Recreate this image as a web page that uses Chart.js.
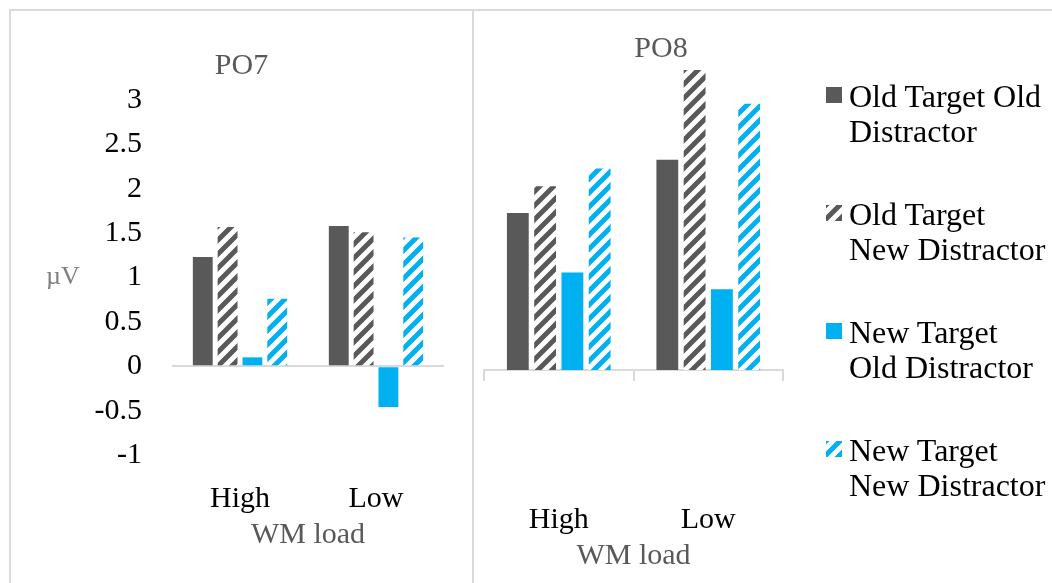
<!DOCTYPE html>
<html><head><meta charset="utf-8">
<script src="https://cdn.jsdelivr.net/npm/chart.js@4.4.1/dist/chart.umd.min.js"></script>
<style>
html,body{margin:0;padding:0;background:#fff;width:1052px;height:583px;overflow:hidden;position:relative;font-family:"Liberation Serif","Times New Roman",serif;}
.rule{position:absolute;background:#d9d9d9;}
#c1{position:absolute;left:10px;top:0;}
#c2{position:absolute;left:474px;top:0;}
#legend{position:absolute;left:826px;top:79px;}
.item{display:flex;align-items:flex-start;margin-bottom:48px;}
.item canvas{margin-top:8px;margin-right:7px;flex:none;}
.item .txt{font-size:32px;line-height:35px;color:#000;white-space:nowrap;}
</style></head><body>
<div class="rule" style="left:9px;top:9px;width:1043px;height:2px"></div>
<div class="rule" style="left:9px;top:9px;width:2px;height:574px"></div>
<div class="rule" style="left:472px;top:9px;width:2px;height:574px"></div>
<canvas id="c1" width="463" height="583"></canvas>
<canvas id="c2" width="374" height="600"></canvas>
<div id="legend"></div>
<script>
// ---- data ----
const categories = ["High", "Low"];
const seriesNames = ["Old Target Old Distractor", "Old Target New Distractor", "New Target Old Distractor", "New Target New Distractor"];
const legendLines = [["Old Target Old", "Distractor"], ["Old Target", "New Distractor"], ["New Target", "Old Distractor"], ["New Target", "New Distractor"]];
const panelTitles = ["PO7", "PO8"];
const xAxisTitle = "WM load";
const yAxisTitle = "\u00b5V";
const po7OldTargetOldDistractor = [1.23, 1.58];
const po7OldTargetNewDistractor = [1.57, 1.51];
const po7NewTargetOldDistractor = [0.10, -0.46];
const po7NewTargetNewDistractor = [0.76, 1.45];
const po8OldTargetOldDistractor = [1.77, 2.37];
const po8OldTargetNewDistractor = [2.07, 3.38];
const po8NewTargetOldDistractor = [1.10, 0.91];
const po8NewTargetNewDistractor = [2.27, 3.00];
const yTicksPO7 = [-1, -0.5, 0, 0.5, 1, 1.5, 2, 2.5, 3];
const yTickLabelsPO7 = ["-1", "-0.5", "0", "0.5", "1", "1.5", "2", "2.5", "3"];

// ---- styles ----
const F = "'Liberation Serif','Times New Roman',serif";
const DARK = "#595959";
const BLUE = "#00B0F0";
const AXIS = "#d9d9d9";
Chart.defaults.font.family = F;

function hatchTile(color) {
  const s = 14, c = document.createElement('canvas');
  c.width = s; c.height = s;
  const x = c.getContext('2d');
  x.fillStyle = '#fff'; x.fillRect(0, 0, s, s);
  x.strokeStyle = color; x.lineWidth = 5;
  x.beginPath();
  // lines x + y = k for k = 0, s, 2s (upward diagonal), extended past edges
  [0, s, 2 * s].forEach(k => { x.moveTo(k - s - 4, s + 4); x.lineTo(k + 4, -4); });
  x.stroke();
  return c;
}
function pattern(color, ctx) {
  const tmp = ctx || document.createElement('canvas').getContext('2d');
  return tmp.createPattern(hatchTile(color), 'repeat');
}
const fills = [DARK, pattern(DARK), BLUE, pattern(BLUE)];

const panelText = {
  id: 'panelText',
  afterDraw(chart, args, opts) {
    const ctx = chart.ctx;
    (opts.items || []).forEach(it => {
      ctx.save();
      ctx.font = it.size + "px " + F;
      ctx.fillStyle = it.color;
      ctx.textAlign = 'center';
      ctx.textBaseline = 'middle';
      const y = it.y === 'mid' ? (chart.chartArea.top + chart.chartArea.bottom) / 2 : it.y;
      ctx.fillText(it.text, it.x, y);
      ctx.restore();
    });
  }
};

function makeDatasets(arrs) {
  return arrs.map((d, i) => ({
    label: seriesNames[i], data: d, backgroundColor: fills[i], borderWidth: 0, xAxisID: 'x', yAxisID: 'y'
  }));
}
const xBase = {
  grid: { display: false }, border: { display: false },
  ticks: { color: '#000', font: { family: F, size: 30 }, padding: 18 },
  title: { display: true, text: xAxisTitle, color: DARK, font: { family: F, size: 30 }, padding: { top: 0, bottom: 12 } },
  afterFit(s) { s.height = 110; }
};

new Chart(document.getElementById('c1'), {
  type: 'bar',
  data: { labels: categories, datasets: makeDatasets([po7OldTargetOldDistractor, po7OldTargetNewDistractor, po7NewTargetOldDistractor, po7NewTargetNewDistractor]) },
  options: {
    responsive: false, animation: false,
    layout: { padding: { left: 0, right: 29, top: 100, bottom: 18 } },
    datasets: { bar: { categoryPercentage: 0.73, barPercentage: 0.8 } },
    plugins: {
      legend: { display: false }, tooltip: { enabled: false }, title: { display: false },
      panelText: { items: [
        { text: panelTitles[0], x: 231.5, y: 66, size: 30, color: DARK },
        { text: yAxisTitle, x: 53, y: 'mid', size: 26, color: '#7f7f7f' }
      ] }
    },
    scales: {
      x: xBase,
      y: {
        min: -1, max: 3,
        afterBuildTicks(s) { s.ticks = yTicksPO7.map(v => ({ value: v })); },
        afterFit(s) { s.width = 162; },
        grid: { color: c => (c.tick && c.tick.value === 0) ? AXIS : 'rgba(0,0,0,0)', lineWidth: 2, drawTicks: false },
        border: { display: false },
        ticks: {
          color: '#000', font: { family: F, size: 30 }, padding: 30,
          callback: (v) => { const i = yTicksPO7.indexOf(v); return i >= 0 ? yTickLabelsPO7[i] : String(v); }
        }
      }
    }
  },
  plugins: [panelText]
});

new Chart(document.getElementById('c2'), {
  type: 'bar',
  data: { labels: categories, datasets: makeDatasets([po8OldTargetOldDistractor, po8OldTargetNewDistractor, po8NewTargetOldDistractor, po8NewTargetNewDistractor]) },
  options: {
    responsive: false, animation: false,
    layout: { padding: { left: 10, right: 65, top: 68.25, bottom: 13.5 } },
    datasets: { bar: { categoryPercentage: 0.73, barPercentage: 0.8 } },
    plugins: {
      legend: { display: false }, tooltip: { enabled: false }, title: { display: false },
      panelText: { items: [ { text: panelTitles[1], x: 187, y: 49, size: 30, color: DARK } ] }
    },
    scales: {
      x: xBase,
      x2: {
        type: 'category', position: { y: 0 }, offset: true,
        grid: { offset: true, drawOnChartArea: false, drawTicks: true, tickLength: 10, color: AXIS, lineWidth: 2 },
        border: { display: true, color: AXIS, width: 2 },
        ticks: { display: false }
      },
      y: { display: false, min: -1.2, max: 3.4 }
    }
  },
  plugins: [panelText]
});

// ---- legend ----
const legend = document.getElementById('legend');
legendLines.forEach((lines, i) => {
  const item = document.createElement('div'); item.className = 'item';
  const sw = document.createElement('canvas'); sw.width = 16; sw.height = 16;
  const sx = sw.getContext('2d');
  sx.fillStyle = (i % 2 === 0) ? fills[i] : pattern(i === 1 ? DARK : BLUE, sx);
  sx.fillRect(0, 0, 16, 16);
  const t = document.createElement('div'); t.className = 'txt';
  t.innerHTML = lines.join('<br>');
  item.appendChild(sw); item.appendChild(t);
  legend.appendChild(item);
});
</script>
</body></html>
